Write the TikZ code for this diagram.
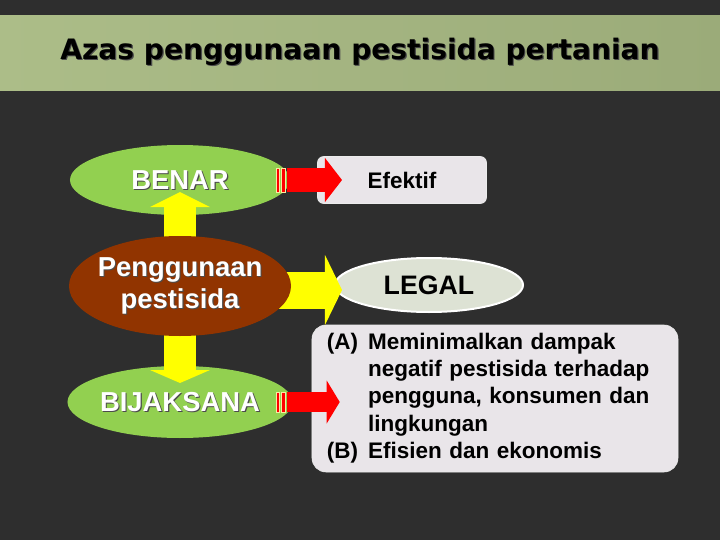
\documentclass[tikz,border=0pt]{standalone}
\usepackage{fontspec}
\setmainfont{Liberation Sans}
\newfontfamily\judulfont{DejaVu Sans}
\usetikzlibrary{shapes.geometric,arrows.meta}
\definecolor{latar}{RGB}{46,46,46}
\definecolor{pitakiri}{RGB}{172,189,136}
\definecolor{pitakanan}{RGB}{155,171,121}
\definecolor{hijau}{RGB}{146,208,80}
\definecolor{coklat}{RGB}{145,52,0}
\definecolor{kuning}{RGB}{255,255,0}
\definecolor{merah}{RGB}{255,0,0}
\definecolor{krem}{RGB}{250,235,160}
\definecolor{abu}{RGB}{233,229,233}
\definecolor{abuhijau}{RGB}{221,226,212}
\pgfdeclarelayer{depan}
\pgfsetlayers{main,depan}
\newcommand{\bayang}[1]{\leavevmode\rlap{\raisebox{-.8pt}[0pt][0pt]{\kern.8pt\textcolor{black!70}{#1}}}#1}

\begin{document}
\begin{tikzpicture}[x=0.25mm,y=-0.25mm]
\tikzset{elips/.style={ellipse, inner sep=-1.5mm, text=white, font=\bfseries\fontsize{19.5}{22}\selectfont},
  kotak/.style={draw=white!85!gray, fill=abu, inner sep=0pt, text=black},
  kuningpanah/.style={draw=kuning},
  merahpanah/.style={draw=merah},
  garis/.style={fill=merah, draw=krem, line width=.2mm}}
\fill[latar] (0,0) rectangle (720,540);
\shade[left color=pitakiri, right color=pitakanan] (0,15) rectangle (720,90);
\node[font=\judulfont\bfseries\fontsize{20}{24}\selectfont] (judul) at (360,52) {\bayang{Azas penggunaan pestisida pertanian}};
% kiri
\node[elips, fill=hijau, minimum width=55mm, minimum height=17.5mm] (benar) at (180,180) {\bayang{BENAR}};
\begin{pgfonlayer}{depan}
\node[elips, fill=coklat, minimum width=55.5mm, minimum height=25mm, align=center, font=\bfseries\fontsize{19.5}{23}\selectfont] (pest) at (180,286) {\bayang{Penggunaan}\\\bayang{pestisida}};
\end{pgfonlayer}
\node[elips, fill=hijau, minimum width=56.25mm, minimum height=18mm] (bijak) at (180,402) {\bayang{BIJAKSANA}};
% kanan
\node[kotak, rounded corners=1.5mm, minimum width=42.25mm, minimum height=11.75mm, font=\bfseries\fontsize{16}{18}\selectfont] (efektif) at (402,180) {Efektif};
\node[ellipse, draw=white, line width=.5mm, fill=abuhijau, inner sep=0pt, minimum width=47mm, minimum height=13.5mm, font=\bfseries\fontsize{19}{22}\selectfont] (legal) at (429,285) {LEGAL};
\node[kotak, rounded corners=3.5mm, minimum width=91.5mm, minimum height=36.75mm, inner xsep=3.75mm, text width=84mm, align=left, font=\bfseries\fontsize{16}{19.4}\selectfont] (daftar) at (495,398.5) {%
\begin{tabular}{@{}l@{\hspace{7pt}}l@{}}
(A) & Meminimalkan dampak\\
 & negatif pestisida terhadap\\
 & pengguna, konsumen dan\\
 & lingkungan\\
(B) & Efisien dan ekonomis
\end{tabular}};
% panah
\draw[kuningpanah, line width=8mm, -{Triangle[length=3.75mm,width=15mm,line width=0pt]}, shorten >=3mm] (pest.center) -- (benar.center);
\draw[kuningpanah, line width=8mm, -{Triangle[length=3.25mm,width=15mm,line width=0pt]}, shorten >=4.75mm] (pest.center) -- (bijak.center);
\draw[kuningpanah, line width=9.25mm, -{Triangle[length=4.25mm,width=17.5mm,line width=0pt]}, shorten >=21.75mm] ([yshift=-1mm]pest.center) -- ([yshift=-1mm]pest.center -| legal.center);
\draw[merahpanah, line width=6mm, -{Triangle[length=4.25mm,width=11mm,line width=0pt]}, shorten <=26.75mm, shorten >=15mm] (benar.center) -- (efektif.center);
\draw[merahpanah, line width=5mm, -{Triangle[length=3.25mm,width=10.75mm,line width=0pt]}, shorten <=26.75mm, shorten >=-7mm] (bijak.center) -- (bijak.center -| daftar.west);
% garis ekor
\foreach \n/\t in {benar/6mm, bijak/5mm}
  \foreach \dx/\w in {24.1mm/.85mm, 25.3mm/1.1mm}
    \filldraw[garis] ([xshift=\dx, yshift=-\t/2]\n.center) rectangle ++(\w,\t);
\end{tikzpicture}
\end{document}
